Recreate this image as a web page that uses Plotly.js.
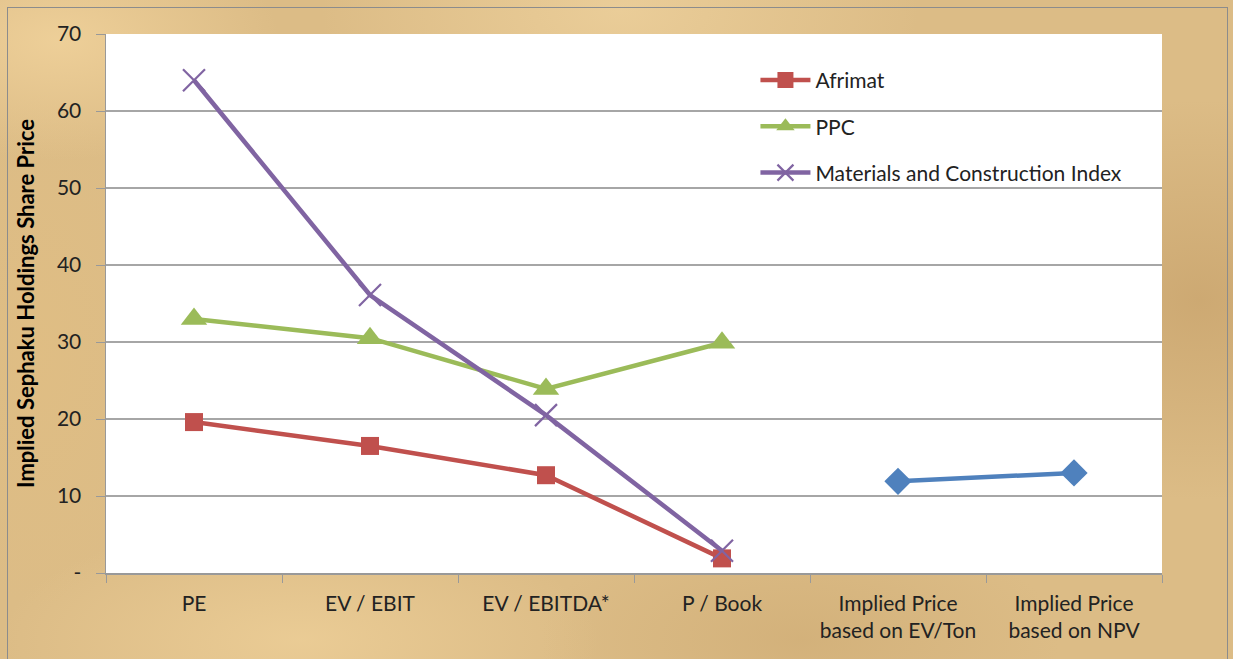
<!DOCTYPE html>
<html>
<head>
<meta charset="utf-8">
<script src="https://cdn.plot.ly/plotly-3.0.1.min.js"></script>
<style>
  html, body { margin: 0; padding: 0; }
  #wrap {
    position: relative; width: 1233px; height: 659px; overflow: hidden;
    background-color: #DCBC86;
    background-image:
      radial-gradient(ellipse 220px 120px at 60px 40px, rgba(245,215,160,0.7), rgba(245,215,160,0) 100%),
      radial-gradient(ellipse 300px 160px at 620px 10px, rgba(240,212,160,0.7), rgba(240,212,160,0) 100%),
      radial-gradient(ellipse 260px 200px at 1200px 300px, rgba(190,150,95,0.5), rgba(190,150,95,0) 100%),
      radial-gradient(ellipse 300px 120px at 300px 640px, rgba(240,210,155,0.7), rgba(240,210,155,0) 100%),
      radial-gradient(ellipse 260px 120px at 800px 640px, rgba(205,170,115,0.6), rgba(205,170,115,0) 100%),
      radial-gradient(ellipse 120px 260px at 40px 350px, rgba(225,190,130,0.6), rgba(225,190,130,0) 100%);
  }
  #frame {
    position: absolute; left: 7px; top: 7px; width: 1221px; height: 670px;
    border: 1.5px solid #8c8c8c; box-sizing: border-box; pointer-events: none;
  }
  #chart { position: absolute; left: 0; top: 0; width: 1233px; height: 659px; }
</style>
</head>
<body>
<div id="wrap">
  <div id="frame"></div>
  <div id="chart"></div>
</div>
<script>
// ---- data ----
const categories = ["PE", "EV / EBIT", "EV / EBITDA*", "P / Book",
                    "Implied Price<br>based on EV/Ton", "Implied Price<br>based on NPV"];
const afrimat = [19.6, 16.5, 12.7, 1.9, null, null];
const ppc = [33.0, 30.5, 23.9, 29.9, null, null];
const materialsIndex = [64.0, 36.1, 20.5, 2.9, null, null];
const impliedPrice = [null, null, null, null, 11.9, 13.0];
const yTickVals = [0, 10, 20, 30, 40, 50, 60, 70];
const yTickText = ["-", "10", "20", "30", "40", "50", "60", "70"];

const font = "Lato, 'Open Sans', 'Liberation Sans', sans-serif";

const traces = [
  { name: "Afrimat", x: categories, y: afrimat, type: "scatter", mode: "lines+markers",
    legendgroup: "a",
    line: { color: "#C0504D", width: 4.5 },
    marker: { symbol: "square", size: 18, color: "#C0504D" } },
  { name: "PPC", x: categories, y: ppc, type: "scatter", mode: "lines+markers",
    legendgroup: "b",
    line: { color: "#9BBB59", width: 4.5 },
    marker: { symbol: "triangle-up", size: 23, color: "#9BBB59" } },
  { name: "Materials and Construction Index", x: categories, y: materialsIndex, type: "scatter", mode: "lines+markers",
    legendgroup: "c",
    line: { color: "#8064A2", width: 4.5 },
    marker: { symbol: "x-thin-open", size: 22, color: "#8064A2", line: { color: "#8064A2", width: 2.2 } } },
  { name: "Implied", x: categories, y: impliedPrice, type: "scatter", mode: "lines+markers",
    showlegend: false,
    line: { color: "#4F81BD", width: 4.5 },
    marker: { symbol: "diamond", size: 21, color: "#4F81BD" } }
];

const layout = {
  width: 1233, height: 659,
  margin: { l: 106, r: 71, t: 34, b: 86 },
  paper_bgcolor: "rgba(0,0,0,0)",
  plot_bgcolor: "#FFFFFF",
  font: { family: font, color: "#222222", size: 21 },
  showlegend: true,
  legend: {
    x: 0.615, y: 0.952, xanchor: "left", yanchor: "top",
    bgcolor: "rgba(0,0,0,0)",
    font: { family: font, size: 21, color: "#222222" },
    itemwidth: 50, traceorder: "grouped", tracegroupgap: 16
  },
  xaxis: {
    type: "category", range: [-0.5, 5.5],
    tickson: "boundaries", ticks: "outside", ticklen: 8, tickcolor: "#999999",
    showline: true, linecolor: "#999999", linewidth: 1.5,
    showgrid: false, zeroline: false,
    ticklabelstandoff: 11,
    tickfont: { family: font, size: 21, color: "#222222" },
    fixedrange: true
  },
  yaxis: {
    range: [0, 70],
    tickvals: yTickVals, ticktext: yTickText,
    ticks: "outside", ticklen: 9, tickcolor: "#999999",
    showline: true, linecolor: "#999999", linewidth: 1.5,
    showgrid: true, gridcolor: "#A6A6A6", gridwidth: 1.2,
    zeroline: false,
    ticklabelstandoff: 10,
    tickfont: { family: font, size: 21, color: "#222222" },
    title: { text: "<b>Implied Sephaku Holdings Share Price</b>",
             font: { family: font, size: 22, color: "#000000" }, standoff: 16 },
    fixedrange: true
  }
};

Plotly.newPlot("chart", traces, layout, { displayModeBar: false, staticPlot: true });
</script>
</body>
</html>
